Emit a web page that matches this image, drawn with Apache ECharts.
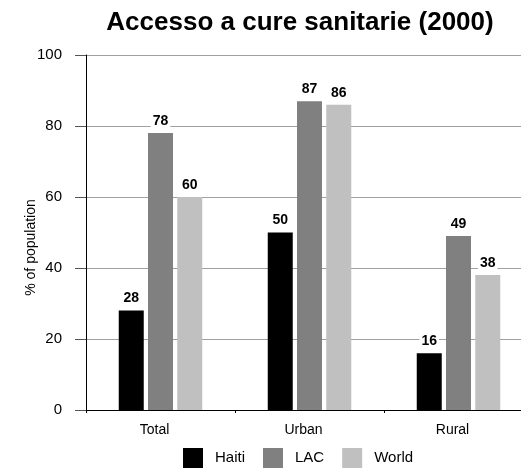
<!DOCTYPE html>
<html>
<head>
<meta charset="utf-8">
<script src="https://cdn.jsdelivr.net/npm/echarts@6/dist/echarts.min.js"></script>
<style>html,body{margin:0;padding:0;background:#fff;overflow:hidden;}#c{width:533px;height:469px;}</style>
</head>
<body>
<div id="c"></div>
<script>
var categories = ['Total', 'Urban', 'Rural'];
var haiti = [28, 50, 16];
var lac = [78, 87, 49];
var world = [60, 86, 38];
var yTicks = [0, 20, 40, 60, 80, 100];

var FONT = '"Liberation Sans", Arial, sans-serif';
var chart = echarts.init(document.getElementById('c'), null, {renderer: 'canvas'});
function labelCfg() {
  return {
    show: true, position: 'top', distance: 5,
    fontFamily: FONT, fontWeight: 'bold', fontSize: 14, color: '#000',
    backgroundColor: '#fff', padding: [1, 2, 0, 2]
  };
}
chart.setOption({
  animation: false,
  backgroundColor: '#fff',
  title: {
    text: 'Accesso a cure sanitarie (2000)',
    left: 300, top: 10, textAlign: 'center', padding: 0,
    textStyle: {fontFamily: FONT, fontWeight: 'bold', fontSize: 26, color: '#000'}
  },
  legend: {
    left: 183, top: 448, itemWidth: 20, itemHeight: 20, itemGap: 18, padding: 0,
    icon: 'rect',
    textStyle: {fontFamily: FONT, fontSize: 15, color: '#000', padding: [0, 0, 0, 7]},
    data: ['Haiti', 'LAC', 'World']
  },
  grid: {left: 86, top: 55, right: 0, bottom: 59, containLabel: false},
  xAxis: {
    type: 'category', data: categories,
    axisLine: {lineStyle: {color: '#000', width: 1}},
    axisTick: {show: true, length: 3, lineStyle: {color: '#000'}},
    axisLabel: {fontFamily: FONT, fontSize: 14, color: '#000', margin: 13, padding: [0, 12, 0, 0]}
  },
  yAxis: {
    type: 'value', min: yTicks[0], max: yTicks[yTicks.length - 1], interval: 20,
    name: '% of population', nameLocation: 'middle', nameGap: 48, nameMoveOverlap: false,
    nameTextStyle: {fontFamily: FONT, fontSize: 14, color: '#000', padding: [0, 30, 0, 0]},
    axisLine: {show: true, lineStyle: {color: '#000', width: 1}},
    axisTick: {show: true, length: 11, lineStyle: {color: '#555'}},
    axisLabel: {fontFamily: FONT, fontSize: 15, color: '#000', margin: 24},
    splitLine: {show: true, lineStyle: {color: '#a0a0a0', width: 1}}
  },
  series: [
    {name: 'Haiti', type: 'bar', data: haiti, barWidth: 25, barGap: '17%', barCategoryGap: '44%',
     itemStyle: {color: '#000000'}, label: labelCfg()},
    {name: 'LAC', type: 'bar', data: lac, barWidth: 25, barGap: '17%',
     itemStyle: {color: '#808080'}, label: labelCfg()},
    {name: 'World', type: 'bar', data: world, barWidth: 25, barGap: '17%',
     itemStyle: {color: '#c0c0c0'}, label: labelCfg()}
  ]
});
</script>
</body>
</html>
